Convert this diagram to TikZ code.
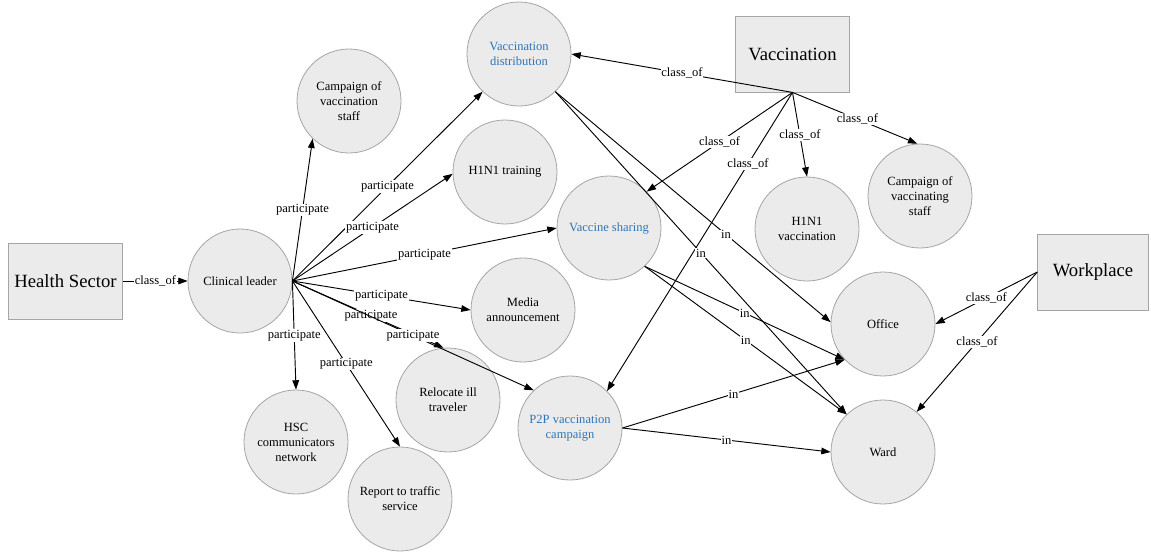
\documentclass[tikz,border=0pt]{standalone}
\usepackage{fontspec}
\setmainfont{Liberation Serif}
\usetikzlibrary{arrows.meta}
\definecolor{nodefill}{RGB}{235,235,235}
\definecolor{nodeline}{RGB}{165,165,165}
\definecolor{bluetext}{RGB}{46,117,182}
\begin{document}
\begin{tikzpicture}[x=0.75pt,y=-0.75pt,
  concept/.style={circle,draw=nodeline,fill=nodefill,line width=0.6pt,
    minimum size=78pt,inner sep=0pt,align=center,
    font=\fontsize{9.4}{11.3}\selectfont},
  entity/.style={rectangle,draw=nodeline,fill=nodefill,line width=0.6pt,
    minimum height=57pt,inner sep=0pt,font=\fontsize{14}{16}\selectfont},
  hl/.style={text=bluetext},
  rel/.style={draw,line width=0.7pt,-{Triangle[length=7pt,width=5pt]}},
  lbl/.style={fill=white,inner sep=0.6pt,font=\fontsize{9.4}{11}\selectfont},
]
\useasboundingbox (0,0) rectangle (1151,557);

% class entities
\node[entity,minimum width=86pt] (hs)  at (65.5,281) {Health Sector};
\node[entity,minimum width=85pt] (vac) at (792.5,54) {Vaccination};
\node[entity,minimum width=83pt] (wp)  at (1093,272) {Workplace};

% concepts
\node[concept] (cl)    at (240,281) {Clinical leader};
\node[concept] (camp)  at (349,101) {Campaign of\\vaccination\\staff};
\node[concept,hl] (vd) at (519,54)  {Vaccination\\distribution};
\node[concept] (h1t)   at (505,172) {H1N1 training};
\node[concept,hl] (vs) at (609,228) {Vaccine sharing};
\node[concept] (media) at (523,310) {Media\\announcement};
\node[concept] (reloc) at (448,400) {Relocate ill\\traveler};
\node[concept,hl] (p2p) at (570,428) {P2P vaccination\\campaign};
\node[concept] (hsc)   at (296,442) {HSC\\communicators\\network};
\node[concept] (rep)   at (400,499) {Report to traffic\\service};
\node[concept] (h1v)   at (807,229) {H1N1\\vaccination};
\node[concept] (cvs)   at (920,196) {Campaign of\\vaccinating\\staff};
\node[concept] (off)   at (883,324) {Office};
\node[concept] (ward)  at (883,452) {Ward};

% class_of links
\draw[rel] (hs.east) -- node[lbl]{class\_of} (cl.west);
\draw[rel] (vac.south) -- node[lbl]{class\_of} (vd.0);
\draw[rel] (vac.south) -- node[lbl]{class\_of} (vs.44);
\draw[rel] (vac.south) -- node[lbl,pos=0.24]{class\_of} (p2p.45);
\draw[rel] (vac.south) -- node[lbl,pos=0.51]{class\_of} (h1v.90);
\draw[rel] (vac.south) -- node[lbl,pos=0.52]{class\_of} (cvs.93);
\draw[rel] (wp.west) -- node[lbl]{class\_of} (off.0);
\draw[rel] (wp.west) -- node[lbl]{class\_of} (ward.50);

% participate links
\draw[rel] (cl.east) -- node[lbl]{participate} (camp.226);
\draw[rel] (cl.east) -- node[lbl]{participate} (vd.226);
\draw[rel] (cl.east) -- node[lbl]{participate} (h1t.182);
\draw[rel] (cl.east) -- node[lbl]{participate} (vs.180);
\draw[rel] (cl.east) -- node[lbl]{participate} (media.180);
\draw[rel] (cl.east) -- node[lbl,pos=0.52]{participate} (reloc.95);
\draw[rel] (cl.east) -- node[lbl]{participate} (p2p.134);
\draw[rel] (cl.east) -- node[lbl]{participate} (hsc.90);
\draw[rel] (cl.east) -- node[lbl]{participate} (rep.90);

% in links
\draw[rel] (vd.314) -- node[lbl,pos=0.62]{in} (off.178);
\draw[rel] (vd.314) -- node[lbl]{in} (ward.134);
\draw[rel] (vs.313) -- node[lbl]{in} (off.223);
\draw[rel] (vs.313) -- node[lbl]{in} (ward.134);
\draw[rel] (p2p.0) -- node[lbl]{in} (off.223);
\draw[rel] (p2p.0) -- node[lbl]{in} (ward.180);
\end{tikzpicture}
\end{document}
